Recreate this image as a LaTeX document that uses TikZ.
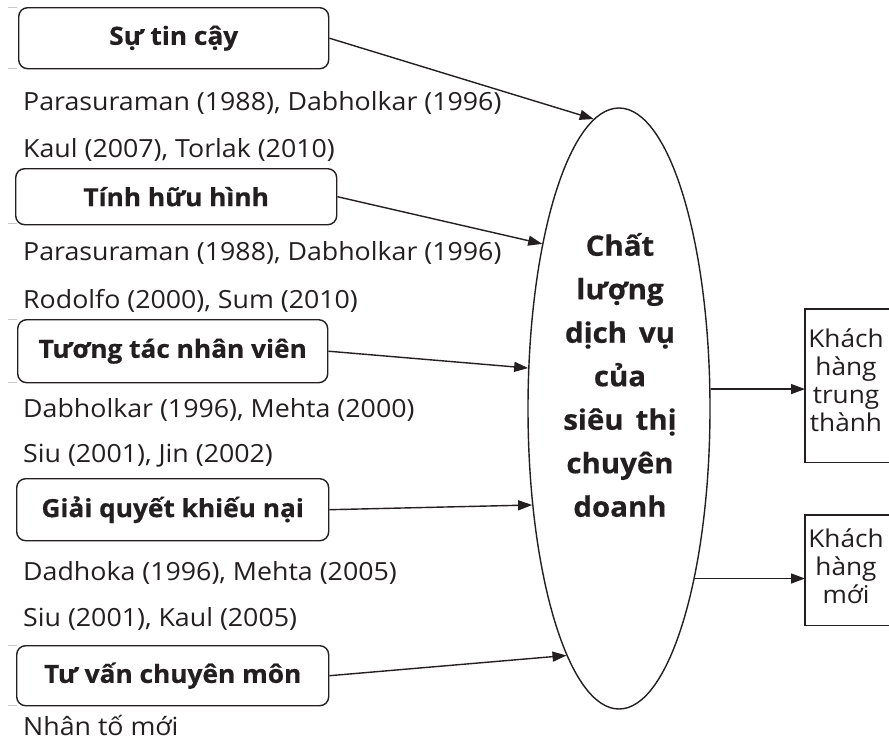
\documentclass[tikz,border=0pt]{standalone}
\usepackage{fontspec}
\setmainfont{Open Sans}[FakeStretch=1.07,BoldFeatures={FakeStretch=1.05,FakeBold=0.5}]
\usetikzlibrary{arrows.meta,shapes.geometric}
\definecolor{ink}{HTML}{231F20}
\newcommand\qualityfont{\fontsize{28}{43.5}\selectfont\bfseries\spaceskip=12pt\relax}
\begin{document}
\begin{tikzpicture}[x=1pt,y=-1pt,
  ink/.style={draw=ink,line width=1.4pt},
  factor/.style={ink,rounded corners=9pt,inner sep=0pt,anchor=north west,
    font=\fontsize{25}{28}\selectfont\bfseries,text=ink},
  src/.style={anchor=base west,inner sep=0pt,text=ink,
    font=\fontsize{25}{28}\selectfont},
  outbox/.style={inner sep=0pt,anchor=north west},
  outtext/.style={anchor=base,inner sep=0pt,align=center,text=ink,
    font=\fontsize{24.5}{28}\selectfont},
  link/.style={ink,-{Triangle[length=14pt,width=10pt]}},
  edge/.style={draw=black!22,line width=1pt}]
\useasboundingbox (0,0) rectangle (889,742);
\fill[white] (0,0) rectangle (889,742);

% faint guide strokes on the left margin
\foreach \yy in {7,68,223,319,382,645,705}
  \draw[edge] (8,\yy) -- (17,\yy);

% service-quality factors
\node[factor,minimum width=310pt,minimum height=61pt] (f1) at (18,7) {Sự tin cậy};
\node[factor,minimum width=321pt,minimum height=56pt] (f2) at (15,168) {Tính hữu hình};
\node[factor,minimum width=310pt,minimum height=63pt] (f3) at (17,319) {Tương tác nhân viên};
\node[factor,minimum width=312pt,minimum height=62pt] (f4) at (16,478) {Giải quyết khiếu nại};
\node[factor,minimum width=312pt,minimum height=60pt] (f5) at (16,645) {Tư vấn chuyên môn};

% sources
\node[src] (s1a) at (23,110) {Parasuraman (1988), Dabholkar (1996)};
\node[src] (s1b) at (23,157) {Kaul (2007), Torlak (2010)};
\node[src] (s2a) at (23,260) {Parasuraman (1988), Dabholkar (1996)};
\node[src] (s2b) at (23,308) {Rodolfo (2000), Sum (2010)};
\node[src] (s3a) at (23,417) {Dabholkar (1996), Mehta (2000)};
\node[src] (s3b) at (23,462) {Siu (2001), Jin (2002)};
\node[src] (s4a) at (23,580) {Dadhoka (1996), Mehta (2005)};
\node[src] (s4b) at (23,626) {Siu (2001), Kaul (2005)};
\node[src] (s5a) at (23,735) {Nhân tố mới};

% central construct
\node[ellipse,ink,minimum width=182pt,minimum height=601pt,inner sep=0pt] (q) at (619,408.5) {};
\node[anchor=center,inner sep=0pt,align=center,text=ink,font=\qualityfont] (qt) at (620,375)
  {Chất\\lượng\\dịch vụ\\của\\siêu thị\\chuyên\\doanh};

% outcomes (boxes run on past the right edge, so only three sides show)
\node[outbox,minimum width=84pt,minimum height=153pt] (o1) at (805,309) {};
\node[outbox,minimum width=84pt,minimum height=110pt] (o2) at (805,515) {};
\draw[ink] (o1.north east) -- (o1.north west) -- (o1.south west) -- (o1.south east);
\draw[ink] (o2.north east) -- (o2.north west) -- (o2.south west) -- (o2.south east);
\node[outtext] (o1t) at (846,431) {Khách\\hàng\\trung\\thành};
\node[outtext] (o2t) at (846,603) {Khách\\hàng\\mới};

% connectors
\draw[link] (f1.east) -- (q.95.8);
\draw[link] (f2.east) -- (q.115.6);
\draw[link] (f3.east) -- (q.156);
\draw[link] (f4.east) -- (q.228.9);
\draw[link] (f5.east) -- (q.258.3);
\draw[link] (q.12.7) -- (q.12.7 -| o1.west);
\draw[link] (q.294.5) -- (q.294.5 -| o2.west);
\end{tikzpicture}
\end{document}
